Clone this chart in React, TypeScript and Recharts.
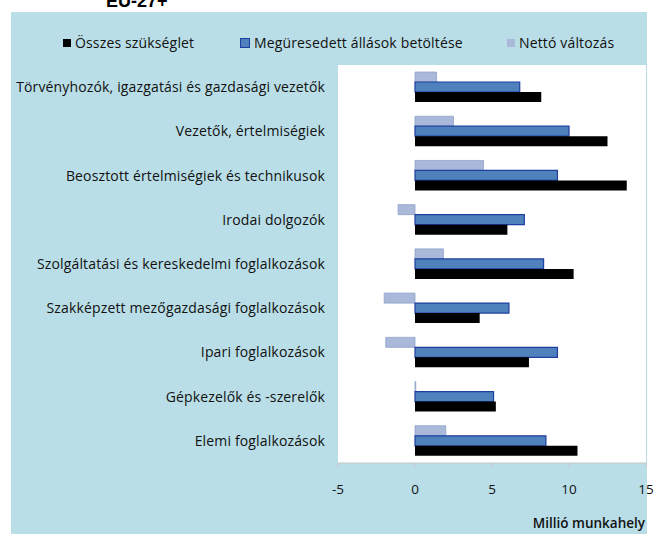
import React from 'react';
import { BarChart, Bar, XAxis, YAxis, CartesianGrid } from 'recharts';

const categories = [
  'Törvényhozók, igazgatási és gazdasági vezetők',
  'Vezetők, értelmiségiek',
  'Beosztott értelmiségiek és technikusok',
  'Irodai dolgozók',
  'Szolgáltatási és kereskedelmi foglalkozások',
  'Szakképzett mezőgazdasági foglalkozások',
  'Ipari foglalkozások',
  'Gépkezelők és -szerelők',
  'Elemi foglalkozások',
];

const nettoValtozas = [1.4, 2.5, 4.45, -1.1, 1.85, -2.0, -1.9, 0.05, 2.0];
const megueresedett = [6.8, 10.0, 9.25, 7.1, 8.35, 6.1, 9.25, 5.1, 8.5];
const osszesSzukseglet = [8.2, 12.5, 13.75, 6.0, 10.3, 4.2, 7.4, 5.25, 10.55];

const xTicks = [-5, 0, 5, 10, 15];

const LEGEND = [
  { label: 'Összes szükséglet', color: '#000000', x: 63 },
  { label: 'Megüresedett állások betöltése', color: '#4f81bd', x: 240 },
  { label: 'Nettó változás', color: '#aab8d9', x: 507 },
];

const data = categories.map((name, i) => ({
  name,
  netto: nettoValtozas[i],
  megu: megueresedett[i],
  osszes: osszesSzukseglet[i],
}));

const FONT = '"Open Sans", "DejaVu Sans", sans-serif';
const BG = '#b9dee7';

export default function App() {
  return (
    <div style={{ position: 'absolute', left: 0, top: 0, width: 666, height: 534, background: '#fff', overflow: 'hidden', fontFamily: FONT }}>
      <div style={{ position: 'absolute', left: 11, top: 12, width: 636, height: 522, background: BG }} />
      <div style={{ position: 'absolute', left: 106, top: -9, fontFamily: 'Liberation Sans, Arial, sans-serif', fontWeight: 700, fontSize: 18, color: '#000' }}>
        EU-27+
      </div>
      {LEGEND.map((l) => (
        <div key={l.label} style={{ position: 'absolute', left: l.x, top: 33, display: 'flex', alignItems: 'center', fontSize: 14, letterSpacing: 0.15, color: '#111' }}>
          <span style={{ width: 8, height: 8, background: l.color, border: l.color === '#4f81bd' ? '1px solid #1f3fa0' : 'none', marginRight: 4, display: 'inline-block' }} />
          {l.label}
        </div>
      ))}
      <div style={{ position: 'absolute', left: 0, top: 0 }}>
        <BarChart
          width={666}
          height={534}
          data={data}
          layout="vertical"
          margin={{ top: 65, right: 20, bottom: 41, left: 0 }}
          barCategoryGap={7}
          barGap={0}
        >
          <CartesianGrid horizontal={false} vertical={false} fill="#ffffff" />
          <XAxis
            type="number"
            domain={[-5, 15]}
            ticks={xTicks}
            height={30}
            tick={{ fill: '#111', fontSize: 13.5, fontFamily: FONT }}
            axisLine={{ stroke: '#c8c8c8' }}
            tickLine={{ stroke: '#c8c8c8' }}
            tickSize={4}
            tickMargin={17}
          />
          <YAxis
            type="category"
            dataKey="name"
            width={338}
            axisLine={false}
            tickLine={false}
            tickMargin={7}
            interval={0}
            tick={{ fill: '#111', fontSize: 14, letterSpacing: 0.15, fontFamily: FONT }}
          />
          <Bar dataKey="netto" fill="#aab8d9" stroke="#8fa3cc" strokeWidth={0.8} isAnimationActive={false} />
          <Bar dataKey="megu" fill="#4f81bd" stroke="#1f3fa0" strokeWidth={1.2} isAnimationActive={false} />
          <Bar dataKey="osszes" fill="#000000" isAnimationActive={false} />
        </BarChart>
      </div>
      <div style={{ position: 'absolute', right: 21, top: 514, fontSize: 13.5, fontWeight: 600, color: '#111' }}>
        Millió munkahely
      </div>
    </div>
  );
}
